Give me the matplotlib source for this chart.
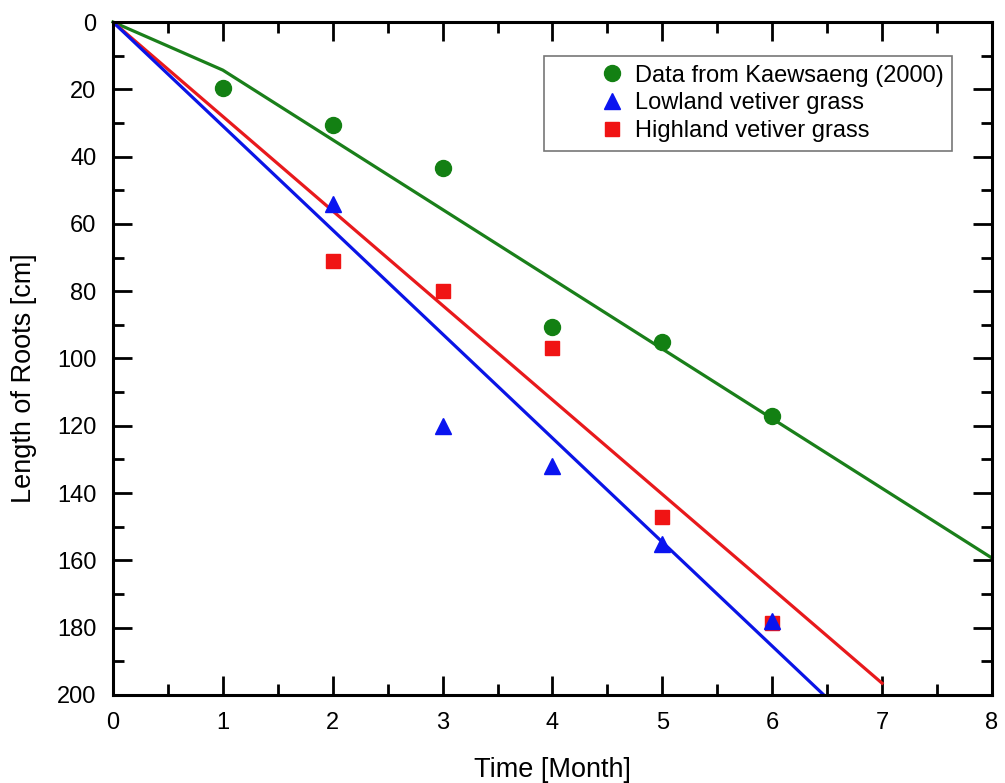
import matplotlib.pyplot as plt
from matplotlib.ticker import MultipleLocator

plt.rcParams['font.family'] = ['Liberation Sans', 'DejaVu Sans']

# measured points
months = [1, 2, 3, 4, 5, 6]
kaew = [19.5, 30.5, 43.5, 90.5, 95, 117]
low_months = [2, 3, 4, 5, 6]
lowland = [54, 120, 132, 155, 178]
highland = [71, 80, 97, 147, 178.5]

# fitted lines
kaew_fit_x = [0, 1, 8]
kaew_fit_y = [0, 14.3, 159.3]
low_fit_x = [0, 6.47]
low_fit_y = [0, 200]
high_fit_x = [0, 7]
high_fit_y = [0, 196.5]

fig = plt.figure(figsize=(10.05, 7.83), dpi=100)
ax = fig.add_axes([0.1124, 0.1124, 0.8746, 0.8595])

ax.plot(kaew_fit_x, kaew_fit_y, color='#1a7f1a', lw=2.3, clip_on=False)
ax.plot(high_fit_x, high_fit_y, color='#e8191c', lw=2.3)
ax.plot(low_fit_x, low_fit_y, color='#0a14e6', lw=2.3)

ax.plot(months, kaew, 'o', color='#138013', ms=11.5, label='Data from Kaewsaeng (2000)')
ax.plot(low_months, highland, 's', color='#f01414', ms=10, zorder=3)
ax.plot(low_months, lowland, '^', color='#0a14f0', ms=12, label='Lowland vetiver grass', zorder=4)
ax.plot([], [], 's', color='#f01414', ms=10, label='Highland vetiver grass')

ax.set_xlim(0, 8)
ax.set_ylim(200, 0)
ax.xaxis.set_major_locator(MultipleLocator(1))
ax.xaxis.set_minor_locator(MultipleLocator(0.5))
ax.yaxis.set_major_locator(MultipleLocator(20))
ax.yaxis.set_minor_locator(MultipleLocator(10))
ax.tick_params(which='both', direction='in', top=True, right=True, width=2,
               labelsize=17)
ax.tick_params(axis='y', pad=12)
ax.tick_params(axis='x', pad=12)
ax.tick_params(which='major', length=14)
ax.tick_params(which='minor', length=8)
for s in ax.spines.values():
    s.set_linewidth(2.2)

ax.set_xlabel('Time [Month]', fontsize=19.5, labelpad=17)
ax.set_ylabel('Length of Roots [cm]', fontsize=19.5)
ax.yaxis.set_label_coords(-0.086, 0.471)

leg = ax.legend(loc='upper right', bbox_to_anchor=(0.955, 0.949), fontsize=17,
                frameon=True, fancybox=False, handlelength=5.0, handletextpad=-1.5,
                borderpad=0.35, labelspacing=0.25, borderaxespad=0)
leg.get_frame().set_edgecolor('#555555')
leg.get_frame().set_linewidth(1.2)

fig.savefig('out.png', dpi=100)
